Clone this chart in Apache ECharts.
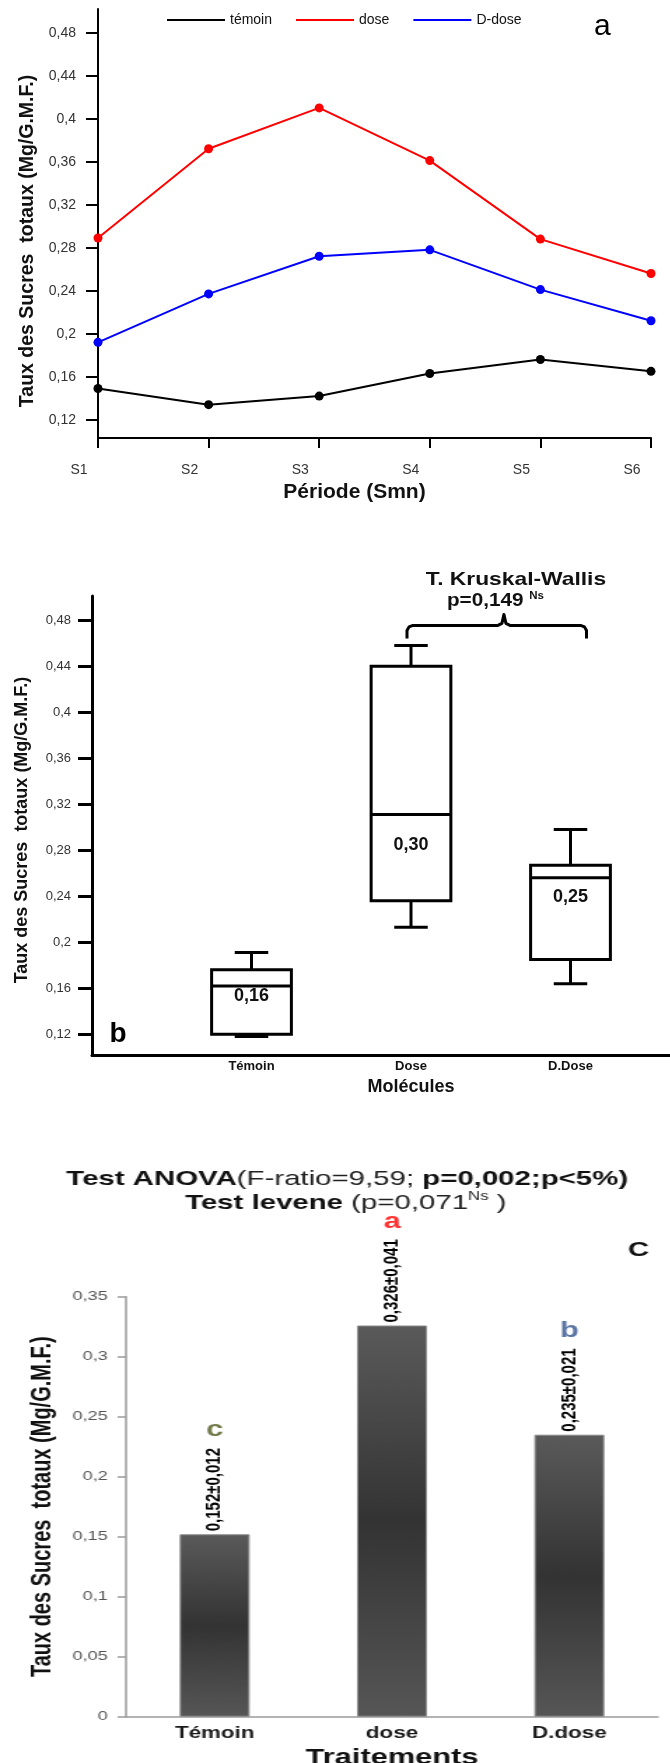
<!DOCTYPE html>
<html>
<head>
<meta charset="utf-8">
<script src="https://cdn.jsdelivr.net/npm/echarts@6/dist/echarts.min.js"></script>
<style>
  html, body { margin: 0; padding: 0; background: #fff; }
  #wrap { position: relative; width: 670px; height: 1763px; overflow: hidden; }
  #chartA { position: absolute; left: 0; top: 0; width: 670px; height: 510px; }
  #chartB { position: absolute; left: 0; top: 510px; width: 670px; height: 640px; }
  /* la figure c de l'original est étirée en largeur */
  #chartC { position: absolute; left: 0; top: 1150px; width: 479px; height: 613px;
            transform: scaleX(1.4); transform-origin: 0 0; }
</style>
</head>
<body>
<div id="wrap">
  <div id="chartA"></div>
  <div id="chartB"></div>
  <div id="chartC"></div>
</div>
<script>
// ---- a : évolution par semaine
var periodes = ['S1', 'S2', 'S3', 'S4', 'S5', 'S6'];
var temoinA = [0.149, 0.134, 0.142, 0.163, 0.176, 0.165];
var doseA = [0.289, 0.372, 0.410, 0.361, 0.288, 0.256];
var dDoseA = [0.192, 0.237, 0.272, 0.278, 0.241, 0.212];
var ticksAB = [0.12, 0.16, 0.2, 0.24, 0.28, 0.32, 0.36, 0.4, 0.44, 0.48];

// ---- b : boites a moustaches
var molecules = ['Témoin', 'Dose', 'D.Dose'];
var boxMin = [0.118, 0.213, 0.164];
var boxQ1 = [0.120, 0.236, 0.185];
var boxMed = [0.162, 0.311, 0.256];
var boxQ3 = [0.176, 0.440, 0.267];
var boxMax = [0.191, 0.458, 0.298];
var medLabels = ['0,16', '0,30', '0,25'];

// ---- c : moyennes +- ecart
var traitements = ['Témoin', 'dose', 'D.dose'];
var moyennes = [0.152, 0.326, 0.235];
var ecarts = [0.012, 0.041, 0.021];
var groupes = ['c', 'a', 'b'];

var FONT = 'Liberation Sans';
var yTitle = 'Taux des Sucres  totaux (Mg/G.M.F.)';

function virgule(v) {
  return String(+(+v).toFixed(3)).replace('.', ',');
}

// ================= a
var chartA = echarts.init(document.getElementById('chartA'));
chartA.setOption({
  animation: false,
  textStyle: { fontFamily: FONT },
  legend: {
    left: 162, top: 8, icon: 'rect', itemWidth: 58, itemHeight: 2, itemGap: 24,
    textStyle: { fontSize: 14, color: '#111', padding: [0, 0, 8, 0] },
    data: ['témoin', 'dose', 'D-dose']
  },
  grid: { left: 98, right: 19, top: 9, bottom: 72, outerBoundsMode: 'none' },
  xAxis: {
    type: 'category', data: periodes, boundaryGap: false,
    axisLine: { lineStyle: { color: '#000', width: 2 } },
    axisTick: { length: 10, lineStyle: { color: '#000', width: 2 } },
    axisLabel: { fontSize: 14, color: '#333', margin: 25, padding: [0, 38, 0, 0] },
    name: 'Période (Smn)', nameLocation: 'middle', nameGap: 41,
    nameTextStyle: { fontSize: 21, fontWeight: 'bold', color: '#111', padding: [0, 40, 0, 0] }
  },
  yAxis: {
    type: 'value', min: 0.103, max: 0.502,
    splitLine: { show: false },
    axisLine: { show: true, lineStyle: { color: '#000', width: 2 } },
    axisTick: { show: true, length: 12, customValues: ticksAB, lineStyle: { color: '#000', width: 2 } },
    axisLabel: { fontSize: 14, color: '#333', margin: 22, customValues: ticksAB, formatter: virgule },
    name: yTitle, nameLocation: 'middle', nameGap: 60,
    nameTextStyle: { fontSize: 19.5, fontWeight: 'bold', color: '#111', padding: [0, 35, 0, 0] }
  },
  graphic: [
    { type: 'text', x: 594, y: 12, style: { text: 'a', font: '30px ' + FONT, fill: '#000' } }
  ],
  series: [
    { name: 'témoin', type: 'line', data: temoinA, symbol: 'circle', symbolSize: 9,
      itemStyle: { color: '#000' }, lineStyle: { color: '#000', width: 2 } },
    { name: 'dose', type: 'line', data: doseA, symbol: 'circle', symbolSize: 9,
      itemStyle: { color: '#ff0000' }, lineStyle: { color: '#ff0000', width: 2 } },
    { name: 'D-dose', type: 'line', data: dDoseA, symbol: 'circle', symbolSize: 9,
      itemStyle: { color: '#0000ff' }, lineStyle: { color: '#0000ff', width: 2 } }
  ]
});

// ================= b
var labelDrop = [10, 30, 19];
var chartB = echarts.init(document.getElementById('chartB'));
chartB.setOption({
  animation: false,
  textStyle: { fontFamily: FONT },
  // l'axe des x continue au-delà du bord droit
  grid: { left: 92, width: 638, top: 86, bottom: 95, outerBoundsMode: 'none' },
  xAxis: {
    type: 'category', data: [''].concat(molecules, ['']), boundaryGap: false,
    axisLine: { lineStyle: { color: '#000', width: 3 } },
    axisTick: { show: false },
    axisLabel: { fontSize: 13, fontWeight: 'bold', color: '#111', margin: 5, interval: 0 },
    name: 'Molécules', nameLocation: 'middle', nameGap: 18,
    nameTextStyle: { fontSize: 18, fontWeight: 'bold', color: '#111' }
  },
  yAxis: {
    type: 'value', min: 0.102, max: 0.501,
    splitLine: { show: false },
    axisLine: { show: true, lineStyle: { color: '#000', width: 3 } },
    axisTick: { show: true, length: 14, customValues: ticksAB, lineStyle: { color: '#000', width: 3 } },
    axisLabel: { fontSize: 13, color: '#333', margin: 21, customValues: ticksAB, formatter: virgule },
    name: yTitle, nameLocation: 'middle', nameGap: 61,
    nameTextStyle: { fontSize: 18, fontWeight: 'bold', color: '#111', padding: [0, 9, 0, 0] }
  },
  series: [{
    type: 'custom',
    data: molecules.map(function (m, i) {
      return [i + 1, boxMin[i], boxQ1[i], boxMed[i], boxQ3[i], boxMax[i]];
    }),
    encode: { x: 0, y: [1, 2, 3, 4, 5] },
    renderItem: function (params, api) {
      var cat = api.value(0);
      var pMin = api.coord([cat, api.value(1)]);
      var pQ1 = api.coord([cat, api.value(2)]);
      var pMed = api.coord([cat, api.value(3)]);
      var pQ3 = api.coord([cat, api.value(4)]);
      var pMax = api.coord([cat, api.value(5)]);
      var cx = pMed[0];
      var half = api.size([1, 0])[0] * 0.25;
      var cap = half * 0.42;
      var st = { stroke: '#000', lineWidth: 3, fill: null };
      return {
        type: 'group',
        children: [
          { type: 'line', shape: { x1: cx, y1: pQ3[1], x2: cx, y2: pMax[1] }, style: st },
          { type: 'line', shape: { x1: cx - cap, y1: pMax[1], x2: cx + cap, y2: pMax[1] }, style: st },
          { type: 'line', shape: { x1: cx, y1: pQ1[1], x2: cx, y2: pMin[1] }, style: st },
          { type: 'line', shape: { x1: cx - cap, y1: pMin[1], x2: cx + cap, y2: pMin[1] }, style: st },
          { type: 'rect', shape: { x: cx - half, y: pQ3[1], width: 2 * half, height: pQ1[1] - pQ3[1] },
            style: { fill: '#fff', stroke: '#000', lineWidth: 3 } },
          { type: 'line', shape: { x1: cx - half, y1: pMed[1], x2: cx + half, y2: pMed[1] }, style: st },
          { type: 'text', x: cx, y: pMed[1] + labelDrop[params.dataIndex],
            style: { text: medLabels[params.dataIndex], font: 'bold 18px ' + FONT, fill: '#111',
                     align: 'center', verticalAlign: 'middle' } }
        ]
      };
    }
  }]
});

// accolade du test de Kruskal-Wallis, placée d'après les catégories
var pD = chartB.convertToPixel({ gridIndex: 0 }, [2, 0.4754]);
var pDD = chartB.convertToPixel({ gridIndex: 0 }, [3, 0.4754]);
var xl = pD[0] - 4, xr = pDD[0] + 16, yb = pD[1], xm = xl + (xr - xl) * 0.54;
chartB.setOption({
  graphic: [
    { type: 'polyline', shape: { points: [[xl, yb + 13], [xl, yb + 5], [xl + 2, yb + 1.5], [xl + 6, yb],
        [xm - 6, yb], [xm - 2, yb - 2], [xm, yb - 11], [xm + 2, yb - 2], [xm + 6, yb],
        [xr - 6, yb], [xr - 2, yb + 1.5], [xr, yb + 5], [xr, yb + 13]] },
      style: { stroke: '#000', lineWidth: 3, fill: null, lineJoin: 'round' } },
    { type: 'text', x: xm + 12, y: yb - 46, scaleX: 1.2,
      style: { text: 'T. Kruskal-Wallis', font: 'bold 19px ' + FONT, fill: '#111', align: 'center', verticalAlign: 'middle' } },
    { type: 'text', x: xm - 57, y: yb - 24, scaleX: 1.15,
      style: { text: '{p|p=0,149 }{s|Ns}', align: 'left', verticalAlign: 'middle',
        rich: { p: { fontSize: 18, fontWeight: 'bold', fontFamily: FONT, fill: '#111', lineHeight: 20 },
                s: { fontSize: 10, fontWeight: 'bold', fontFamily: FONT, fill: '#111', lineHeight: 20, verticalAlign: 'top' } } } },
    { type: 'text', x: 118, y: 524,
      style: { text: 'b', font: 'bold 28px ' + FONT, fill: '#000', align: 'center', verticalAlign: 'middle' } }
  ]
});

// ================= c (coordonnées avant l'étirement x1.4)
var lettreCouleurs = ['#505a1e', '#ff0000', '#34558f'];
var chartC = echarts.init(document.getElementById('chartC'));
chartC.setOption({
  animation: false,
  textStyle: { fontFamily: FONT },
  grid: { left: 90, right: 9, top: 146.7, bottom: 46.3, outerBoundsMode: 'none' },
  xAxis: {
    type: 'category', data: traitements,
    axisLine: { lineStyle: { color: '#9a9a9a', width: 1.5 } },
    axisTick: { length: 4, lineStyle: { color: '#9a9a9a', width: 1.5 } },
    axisLabel: { fontSize: 16, fontWeight: 'bold', color: '#1a1a1a', margin: 9 },
    name: 'Traitements', nameLocation: 'middle', nameGap: 24,
    nameTextStyle: { fontSize: 22, fontWeight: 'bold', color: '#111' }
  },
  yAxis: {
    type: 'value', min: 0, max: 0.35, interval: 0.05,
    splitLine: { show: false },
    axisLine: { show: true, lineStyle: { color: '#9a9a9a', width: 1.5 } },
    axisTick: { show: true, length: 6, lineStyle: { color: '#9a9a9a', width: 1.5 } },
    axisLabel: { fontSize: 13, color: '#555', margin: 13, formatter: virgule },
    name: yTitle, nameLocation: 'middle', nameGap: 48,
    nameTextStyle: { fontSize: 20, fontWeight: 'bold', color: '#111' }
  },
  graphic: [
    { type: 'text', x: 248, y: 29,
      style: { text: '{b|Test ANOVA}{n|(F-ratio=9,59; }{b|p=0,002;p<5%)}', align: 'center', verticalAlign: 'middle',
        rich: { b: { fontSize: 21, fontWeight: 'bold', fontFamily: FONT, fill: '#111' },
                n: { fontSize: 21, fontFamily: FONT, fill: '#222' } } } },
    { type: 'text', x: 247, y: 53,
      style: { text: '{b|Test levene}{n| (p=0,071}{s|Ns}{n| )}', align: 'center', verticalAlign: 'middle',
        rich: { b: { fontSize: 21, fontWeight: 'bold', fontFamily: FONT, fill: '#111', lineHeight: 24 },
                n: { fontSize: 21, fontFamily: FONT, fill: '#222', lineHeight: 24 },
                s: { fontSize: 12, fontFamily: FONT, fill: '#222', lineHeight: 24, verticalAlign: 'top' } } } },
    { type: 'text', x: 456, y: 100,
      style: { text: 'C', font: 'bold 21px ' + FONT, fill: '#111', align: 'center', verticalAlign: 'middle' } }
  ],
  series: [
    {
      type: 'bar', data: moyennes, barWidth: 50,
      itemStyle: {
        borderColor: '#8a8a8a', borderWidth: 1,
        color: new echarts.graphic.LinearGradient(0, 0, 0, 1, [
          { offset: 0, color: '#5a5a5a' },
          { offset: 0.5, color: '#333333' },
          { offset: 1, color: '#565656' }
        ])
      },
      label: {
        show: true, position: 'top', distance: 3, rotate: 90, align: 'left', verticalAlign: 'middle',
        fontSize: 15, fontWeight: 'bold', color: '#000',
        formatter: function (p) { return virgule(p.value) + '±' + virgule(ecarts[p.dataIndex]); }
      }
    },
    {
      type: 'scatter', silent: true, symbolSize: 1,
      itemStyle: { color: 'rgba(0,0,0,0)' },
      data: moyennes.map(function (v, i) { return { value: v, label: { color: lettreCouleurs[i] } }; }),
      label: {
        show: true, position: 'inside', offset: [0, -104], fontSize: 22, fontWeight: 'bold',
        formatter: function (p) { return groupes[p.dataIndex]; }
      }
    }
  ]
});
</script>
</body>
</html>
